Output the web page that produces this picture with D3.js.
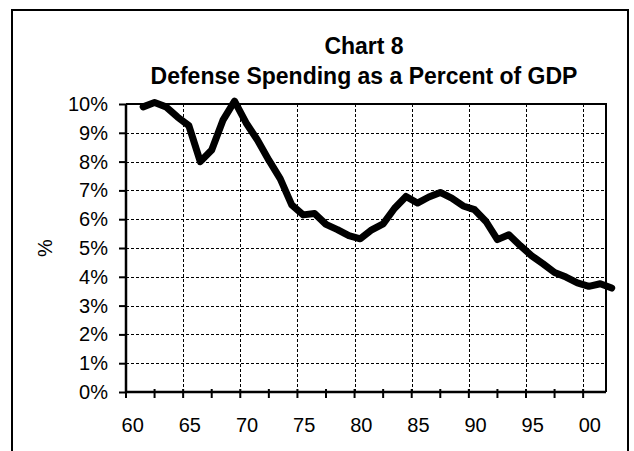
<!DOCTYPE html>
<html>
<head>
<meta charset="utf-8">
<script src="https://cdn.jsdelivr.net/npm/d3@7"></script>
<style>
  body { margin: 0; background: #fff; }
  svg text { font-family: Arial, "Liberation Sans", sans-serif; fill: #000; }
</style>
</head>
<body>
<div id="chart"></div>
<script>
// data (fiscal years, % of GDP)
const years = d3.range(1961, 2003);
const defense = [
  9.9, 10.05, 9.9, 9.55, 9.25, 8.0, 8.4, 9.45, 10.1, 9.35,
  8.75, 8.05, 7.4, 6.5, 6.15, 6.2, 5.82, 5.64, 5.43, 5.32,
  5.63, 5.84, 6.38, 6.79, 6.56, 6.77, 6.93, 6.73, 6.46, 6.33,
  5.92, 5.29, 5.46, 5.08, 4.73, 4.45, 4.15, 3.99, 3.79, 3.67,
  3.76, 3.61
];
const labelYears = d3.range(1960, 2001, 5);   // 60 65 ... 00
const tickYears = d3.range(1959.5, 2001, 2.5);
const gridYears = d3.range(1964.5, 2001, 5);
const pctTicks = d3.range(0, 11);

const W = 634, H = 451;
const plot = {left: 126, right: 606, top: 104, bottom: 392};

const svg = d3.select("#chart").append("svg")
  .attr("width", W)
  .attr("height", H);

// outer chart border (bottom edge runs off the picture)
svg.append("rect")
  .attr("x", 12).attr("y", 10)
  .attr("width", 616).attr("height", 470)
  .attr("fill", "none")
  .attr("stroke", "#000")
  .attr("stroke-width", 2);

const x = d3.scaleLinear().domain([1959.5, 2001.5]).range([plot.left, plot.right]);
const y = d3.scaleLinear().domain([0, 10]).range([plot.bottom, plot.top]);

// title
const title = svg.append("g")
  .attr("font-weight", "bold")
  .attr("font-size", 23)
  .attr("text-anchor", "middle");
title.append("text").attr("x", 364).attr("y", 54).text("Chart 8");
title.append("text").attr("x", 364).attr("y", 84)
  .text("Defense Spending as a Percent of GDP");

// gridlines
const grid = svg.append("g")
  .attr("stroke", "#000")
  .attr("stroke-width", 1)
  .attr("stroke-dasharray", "3,2")
  .attr("shape-rendering", "crispEdges");
grid.selectAll(".hg").data(pctTicks.slice(1, 10)).join("line")
  .attr("x1", plot.left).attr("x2", plot.right)
  .attr("y1", d => Math.round(y(d)) + 0.5).attr("y2", d => Math.round(y(d)) + 0.5);
grid.selectAll(".vg").data(gridYears).join("line")
  .attr("y1", plot.top).attr("y2", plot.bottom)
  .attr("x1", d => Math.round(x(d)) + 0.5).attr("x2", d => Math.round(x(d)) + 0.5);

// plot frame: top and right
svg.append("path")
  .attr("d", `M${plot.left},${plot.top}H${plot.right}V${plot.bottom}`)
  .attr("fill", "none")
  .attr("stroke", "#000")
  .attr("stroke-width", 2);

// y axis
const yAxis = d3.axisLeft(y)
  .tickValues(pctTicks)
  .tickFormat(d => d + "%")
  .tickSize(7)
  .tickPadding(11);
const gy = svg.append("g")
  .attr("transform", `translate(${plot.left},0)`)
  .call(yAxis);
gy.select(".domain").remove();
gy.selectAll(".tick line").attr("stroke", "#000").attr("stroke-width", 2);
gy.selectAll(".tick text").attr("font-size", 20).attr("fill", "#000")
  .attr("font-family", "Arial, 'Liberation Sans', sans-serif");

// x axis ticks (cross the axis line)
svg.append("g").selectAll("line").data(tickYears).join("line")
  .attr("x1", d => x(d)).attr("x2", d => x(d))
  .attr("y1", plot.bottom - 3).attr("y2", plot.bottom + 6)
  .attr("stroke", "#000").attr("stroke-width", 2);

svg.append("g")
  .attr("font-size", 20)
  .attr("text-anchor", "middle")
  .selectAll("text").data(labelYears).join("text")
  .attr("x", d => x(d) + 1)
  .attr("y", plot.bottom + 40)
  .text(d => d3.format("02d")(d % 100));

// axis lines
svg.append("path")
  .attr("d", `M${plot.left},${plot.top}V${plot.bottom}H${plot.right}`)
  .attr("fill", "none")
  .attr("stroke", "#000")
  .attr("stroke-width", 2.5);

// y axis title
svg.append("text")
  .attr("transform", `translate(52,${(plot.top + plot.bottom) / 2}) rotate(-90)`)
  .attr("text-anchor", "middle")
  .attr("font-size", 20)
  .text("%");

// series line
const line = d3.line()
  .x((d, i) => x(years[i]))
  .y(d => y(d));

svg.append("path")
  .datum(defense)
  .attr("d", line)
  .attr("fill", "none")
  .attr("stroke", "#000")
  .attr("stroke-width", 7)
  .attr("stroke-linejoin", "round")
  .attr("stroke-linecap", "round");
</script>
</body>
</html>
